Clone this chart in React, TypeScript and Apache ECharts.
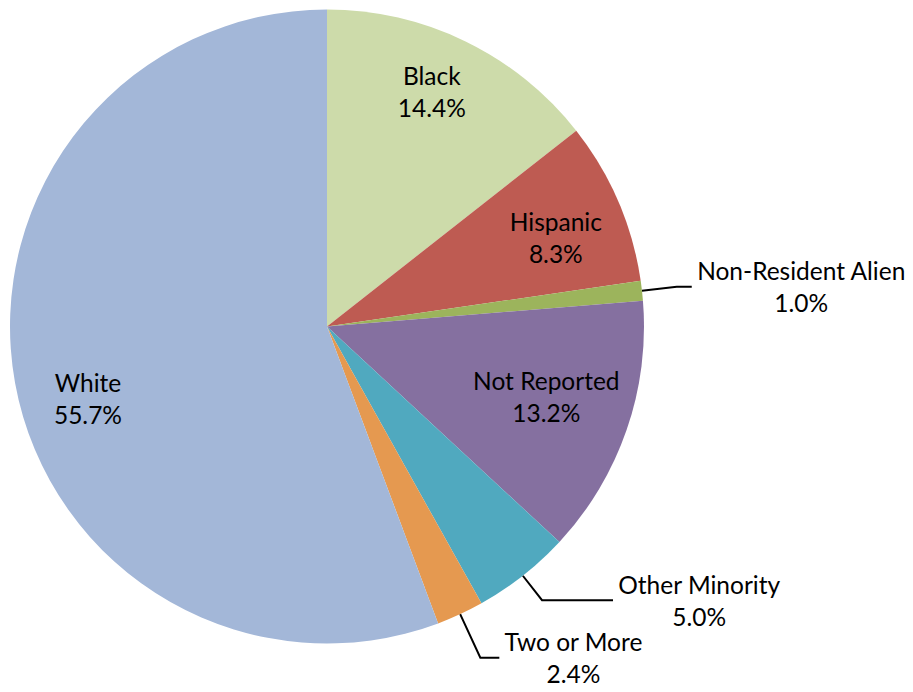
import React, { useEffect, useRef } from 'react';
import * as echarts from 'echarts';

const categories = ['Black', 'Hispanic', 'Non-Resident Alien', 'Not Reported', 'Other Minority', 'Two or More', 'White'];
const shares = [14.4, 8.3, 1.0, 13.2, 5.0, 2.4, 55.7];
const sliceColors = ['#CDDBAA', '#BE5B52', '#9CB45C', '#8570A0', '#50A9BF', '#E59950', '#A3B7D8'];
const outsideCategories = ['Non-Resident Alien', 'Other Minority', 'Two or More'];

const FONT = 'Lato, "Open Sans", sans-serif';

const leader: Record<string, { length: number; length2: number }> = {
  'Non-Resident Alien': { length: 35, length2: 15 },
  'Other Minority': { length: 31, length2: 71 },
  'Two or More': { length: 48, length2: 19 },
};

// best-fit nudges for the inside labels (like the spreadsheet's placement)
const insideNudge: Record<string, { dx: number; dy: number }> = {
  Black: { dx: -4, dy: -11 },
  Hispanic: { dx: 0, dy: 9 },
  'Not Reported': { dx: -16, dy: -11 },
  White: { dx: 6, dy: 28 },
};

const richStyle = {
  n: { align: 'center', fontFamily: FONT, fontSize: 24.5, lineHeight: 32, color: '#000' },
};

const fmt = (p: any) => `{n|${p.name}}\n{n|${Number(p.value).toFixed(1)}%}`;

export default function App() {
  const ref = useRef<HTMLDivElement>(null);
  useEffect(() => {
    if (!ref.current) return;
    const chart = echarts.init(ref.current, undefined, { renderer: 'svg' });
    const center = [327, 326.5];
    const R = 317;
    const mainData = categories.map((name, i) => {
      const outside = outsideCategories.includes(name);
      return {
        name,
        value: shares[i],
        itemStyle: { color: sliceColors[i] },
        label: outside
          ? { show: true, position: 'outside', formatter: fmt, rich: richStyle, distanceToLabelLine: 5 }
          : { show: false },
        labelLine: outside
          ? { show: true, length: leader[name].length, length2: leader[name].length2, lineStyle: { color: '#000', width: 2 } }
          : { show: false },
      };
    });
    const labelData = categories.map((name, i) => {
      const outside = outsideCategories.includes(name);
      return {
        name,
        value: shares[i],
        itemStyle: { color: 'rgba(0,0,0,0)' },
        label: outside ? { show: false } : { show: true, position: 'inside', formatter: fmt, rich: richStyle },
        labelLine: { show: false },
      };
    });
    chart.setOption({
      animation: false,
      backgroundColor: '#fff',
      series: [
        {
          type: 'pie',
          center,
          radius: [0, R],
          startAngle: 90,
          clockwise: true,
          avoidLabelOverlap: false,
          silent: true,
          itemStyle: { borderWidth: 0 },
          emphasis: { disabled: true },
          data: mainData,
        },
        {
          type: 'pie',
          center,
          radius: [175, R],
          startAngle: 90,
          clockwise: true,
          avoidLabelOverlap: false,
          silent: true,
          z: 3,
          itemStyle: { borderWidth: 0 },
          emphasis: { disabled: true },
          labelLayout: (params: any) => {
            const name = categories[params.dataIndex];
            return insideNudge[name] || {};
          },
          data: labelData,
        },
      ],
    });
    return () => chart.dispose();
  }, []);
  return <div ref={ref} style={{ position: 'absolute', left: 0, top: 0, width: 913, height: 692 }} />;
}
